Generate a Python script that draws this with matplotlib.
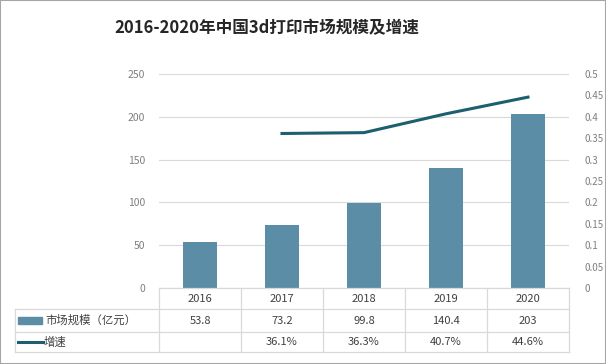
import matplotlib.pyplot as plt
import matplotlib.transforms as mtransforms
from matplotlib.patches import Rectangle
from matplotlib.lines import Line2D

plt.rcParams['font.family'] = ['Noto Sans CJK SC', 'DejaVu Sans']

# data
years = ['2016', '2017', '2018', '2019', '2020']
market_size = [53.8, 73.2, 99.8, 140.4, 203]
growth = [None, 0.361, 0.363, 0.407, 0.446]
size_label = '市场规模（亿元）'
growth_label = '增速'
title = '2016-2020年中国3d打印市场规模及增速'

bar_color = '#5b8ea6'
line_color = '#1d5f6f'
grid_color = '#d9d9d9'
text_color = '#404040'
tick_color = '#7f7f7f'

W, H = 606, 364
fig = plt.figure(figsize=(W / 100, H / 100), dpi=100)

def fy(py):
    return 1 - py / H

def fx(px):
    return px / W

ax = fig.add_axes([fx(159), fy(288), 410 / W, 214 / H])
x = list(range(len(years)))
ax.bar(x, market_size, width=0.41, color=bar_color, zorder=2)
ax.set_xlim(-0.5, len(years) - 0.5)
ax.set_ylim(0, 250)
ax.set_yticks(range(0, 251, 50))
ax.yaxis.grid(True, color=grid_color, lw=0.8, zorder=0)
ax.set_xticks([])
for s in ax.spines.values():
    s.set_visible(False)
ax.tick_params(axis='y', length=0, pad=10, labelsize=7.5, labelcolor=tick_color)

ax2 = ax.twinx()
gx = [i for i, g in zip(x, growth) if g is not None]
gy = [g for g in growth if g is not None]
ax2.plot(gx, gy, color=line_color, lw=2.2, zorder=3)
ax2.set_ylim(0, 0.5)
ax2.set_yticks([i * 0.05 for i in range(11)])
ax2.set_yticklabels(['0', '0.05', '0.1', '0.15', '0.2', '0.25', '0.3', '0.35', '0.4', '0.45', '0.5'])
for s in ax2.spines.values():
    s.set_visible(False)
ax2.tick_params(axis='y', length=0, pad=11, labelsize=7, labelcolor=tick_color)

# data table under the chart
tr = mtransforms.blended_transform_factory(ax.transData, fig.transFigure)
rows_y = [fy(288), fy(309), fy(332), fy(352)]
lk = dict(color=grid_color, lw=0.9, transform=fig.transFigure, clip_on=False)
fig.add_artist(Line2D([fx(159), fx(569)], [rows_y[0]] * 2, **lk))
for ry in rows_y[1:]:
    fig.add_artist(Line2D([fx(15), fx(569)], [ry] * 2, **lk))
for i in range(len(years) + 1):
    fig.add_artist(Line2D([i - 0.5] * 2, [rows_y[0], rows_y[3]], color=grid_color,
                          lw=0.9, transform=tr, clip_on=False))
fig.add_artist(Line2D([fx(15)] * 2, [rows_y[1], rows_y[3]], **lk))

hy = (rows_y[0] + rows_y[1]) / 2
sy = (rows_y[1] + rows_y[2]) / 2
gyy = (rows_y[2] + rows_y[3]) / 2
for i, yr in enumerate(years):
    fig.text(i, hy, yr, transform=tr, ha='center', va='center', fontsize=8, color=text_color)
    fig.text(i, sy, f'{market_size[i]:g}', transform=tr, ha='center', va='center',
             fontsize=8, color=text_color)
    if growth[i] is not None:
        fig.text(i, gyy, f'{growth[i] * 100:.1f}%', transform=tr, ha='center', va='center',
                 fontsize=8, color=text_color)

fig.add_artist(Rectangle((fx(18), sy - 3.5 / H), 24 / W, 7 / H, color=bar_color,
                         transform=fig.transFigure))
fig.text(fx(45), sy, size_label, ha='left', va='center', fontsize=8.2, color=text_color)
fig.add_artist(Line2D([fx(18), fx(43)], [gyy, gyy], color=line_color, lw=2.2,
                      transform=fig.transFigure))
fig.text(fx(44), gyy, growth_label, ha='left', va='center', fontsize=8.2, color=text_color)

fig.text(fx(267), fy(28), title, ha='center', va='center', fontsize=12,
         fontweight='bold', color='#262626')

# outer frame
fig.add_artist(Rectangle((0, 0), 1, 1, fill=False, edgecolor='#a6a6a6', lw=1.5,
                         transform=fig.transFigure))

fig.savefig('out.png', dpi=100)
